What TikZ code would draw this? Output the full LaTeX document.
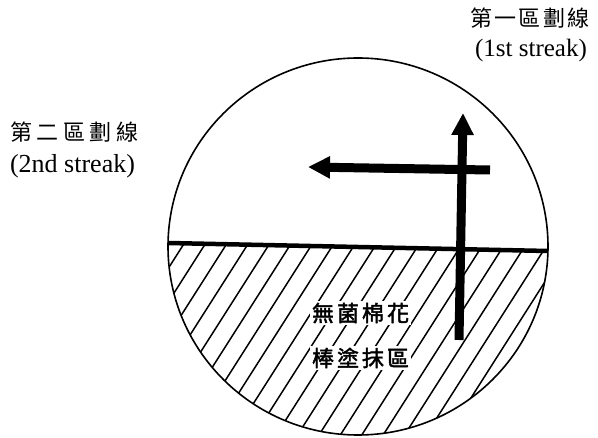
\documentclass[tikz,border=0pt]{standalone}
\usepackage{fontspec}
\setmainfont{Liberation Serif}
\newfontfamily\cjk{Noto Sans CJK TC}
\newfontfamily\cjkb[FakeBold=2]{Noto Sans CJK TC}
\usetikzlibrary{arrows.meta}
\newcommand\ks[1]{\kern#1}
\tikzset{
  lab/.style={inner sep=0pt, text=black},
  inlab/.style={inner sep=2pt, fill=white, text=black},
  rim/.style={line width=1.6pt, draw=black},
  chord/.style={line width=4.5pt, draw=black},
  hatchline/.style={line width=1.5pt, draw=black},
  streak/.style={line width=9pt, draw=black, -{Triangle[width=21pt,length=22pt]}},
}
\begin{document}
\begin{tikzpicture}[x=1pt,y=-1pt]
\useasboundingbox (0,0) rectangle (598,438);
% hatching of the lower segment
\begin{scope}
  \clip (168,243) -- (548,251) -- (600,251) -- (600,440) -- (0,440) -- (0,243) -- cycle;
  \clip (358,246.5) ellipse [x radius=190pt, y radius=188.5pt];
  \foreach \k in {-2,...,21} {
    \pgfmathsetmacro\xa{180+21.4*\k}
    \draw[hatchline] ({\xa-0.637*200},450) -- ({\xa+0.637*12},238);
  }
\end{scope}
% circle and dividing line
\draw[rim] (358,246.5) ellipse [x radius=190pt, y radius=188.5pt];
\coordinate (cl) at (168,243);
\coordinate (cr) at (548,251);
\draw[chord] (cl) -- (cr);
% inner labels
\node[inlab] (in1) at (360.5,313) {\cjkb\fontsize{22pt}{24pt}\selectfont 無\ks{3pt}菌\ks{3pt}棉\ks{3pt}花};
\node[inlab] (in2) at (360.5,358) {\cjkb\fontsize{22pt}{24pt}\selectfont 棒\ks{3pt}塗\ks{3pt}抹\ks{3pt}區};
% streak arrows
\coordinate (v0) at (459,340);
\coordinate (v1) at (463,113);
\coordinate (h0) at (490,170);
\coordinate (h1) at (308,167);
\draw[streak] (h0) -- (h1);
\draw[streak] (v0) -- (v1);
% outer labels
\node[lab] (t1) at (530,18) {\cjk\fontsize{22pt}{24pt}\selectfont 第\ks{2.5pt}一\ks{2.5pt}區\ks{2.5pt}劃\ks{2.5pt}線};
\node[lab] (t1e) at (531,50) {\fontsize{25pt}{30pt}\selectfont (1st streak)};
\node[lab] (t2) at (74.5,132) {\cjk\fontsize{22pt}{24pt}\selectfont 第\ks{4.5pt}二\ks{4.5pt}區\ks{4.5pt}劃\ks{4.5pt}線};
\node[lab] (t2e) at (72.5,166) {\fontsize{26pt}{30pt}\selectfont (2nd streak)};
\end{tikzpicture}
\end{document}
